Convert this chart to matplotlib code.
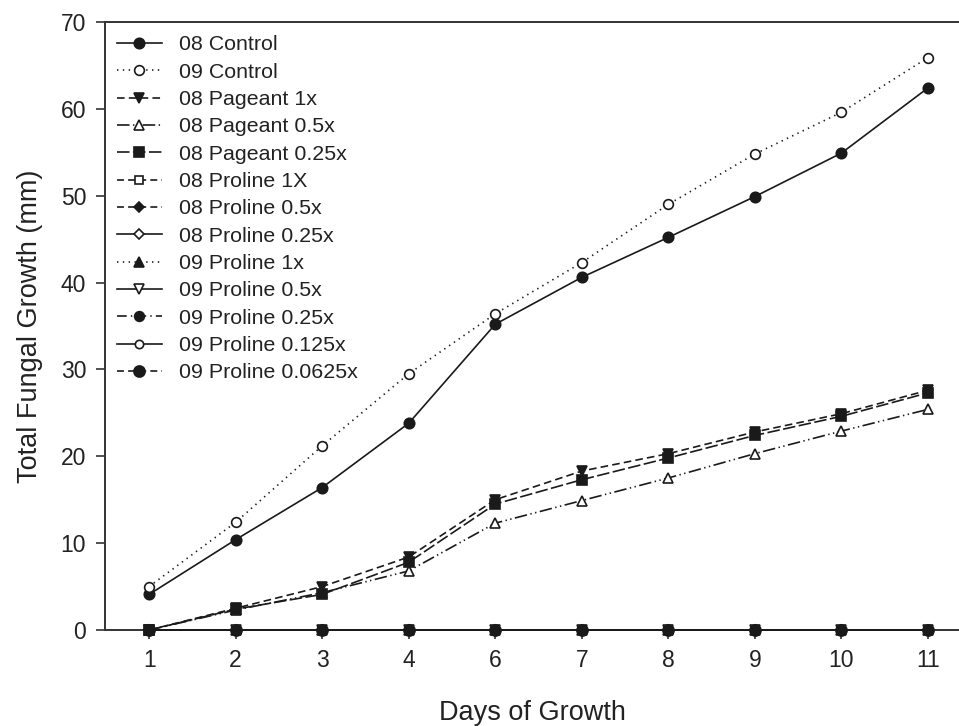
import matplotlib
matplotlib.use("Agg")
import matplotlib.pyplot as plt
import numpy as np

plt.rcParams['font.family'] = ['Liberation Sans', 'DejaVu Sans']
plt.rcParams['lines.scale_dashes'] = False

days = ['1', '2', '3', '4', '6', '7', '8', '9', '10', '11']

ctrl_08 = [4.1, 10.4, 16.4, 23.8, 35.2, 40.6, 45.2, 49.9, 54.9, 62.4]
ctrl_09 = [5.0, 12.4, 21.2, 29.5, 36.4, 42.3, 49.0, 54.8, 59.6, 65.9]
pageant_1x_08 = [0, 2.5, 5.0, 8.4, 15.0, 18.3, 20.3, 22.8, 24.9, 27.6]
pageant_05x_08 = [0, 2.3, 4.3, 6.8, 12.3, 14.9, 17.5, 20.3, 22.9, 25.4]
pageant_025x_08 = [0, 2.4, 4.1, 7.8, 14.5, 17.3, 19.8, 22.4, 24.6, 27.3]
proline_1x_08 = [0, 0, 0, 0, 0, 0, 0, 0, 0, 0]
proline_05x_08 = [0, 0, 0, 0, 0, 0, 0, 0, 0, 0]
proline_025x_08 = [0, 0, 0, 0, 0, 0, 0, 0, 0, 0]
proline_1x_09 = [0, 0, 0, 0, 0, 0, 0, 0, 0, 0]
proline_05x_09 = [0, 0, 0, 0, 0, 0, 0, 0, 0, 0]
proline_025x_09 = [0, 0, 0, 0, 0, 0, 0, 0, 0, 0]
proline_0125x_09 = [0, 0, 0, 0, 0, 0, 0, 0, 0, 0]
proline_00625x_09 = [0, 0, 0, 0, 0, 0, 0, 0, 0, 0]

labels = ['08 Control', '09 Control', '08 Pageant 1x', '08 Pageant 0.5x',
          '08 Pageant 0.25x', '08 Proline 1X', '08 Proline 0.5x',
          '08 Proline 0.25x', '09 Proline 1x', '09 Proline 0.5x',
          '09 Proline 0.25x', '09 Proline 0.125x', '09 Proline 0.0625x']
series = [ctrl_08, ctrl_09, pageant_1x_08, pageant_05x_08, pageant_025x_08,
          proline_1x_08, proline_05x_08, proline_025x_08, proline_1x_09,
          proline_05x_09, proline_025x_09, proline_0125x_09, proline_00625x_09]

K = '#1a1a1a'
W = 'white'
solid = '-'
dotted = (0, (1, 3.2))
dash_med = (0, (5.5, 3.0))
dash_long = (0, (9, 2.5))
dash_dotdot = (0, (9, 2.5, 1, 2.5, 1, 2.5))
dash_short = (0, (5, 3))
dash_dot = (0, (7, 3, 1, 3))

styles = [
    dict(ls=solid, marker='o', mfc=K, ms=7.5, z=4),
    dict(ls=dotted, marker='o', mfc=W, ms=7, z=4),
    dict(ls=dash_med, marker='v', mfc=K, ms=7.3, z=4),
    dict(ls=dash_dotdot, marker='^', mfc=W, ms=7, z=4),
    dict(ls=dash_long, marker='s', mfc=K, ms=6.5, z=4),
    dict(ls=dash_short, marker='s', mfc=W, ms=5.3, z=3),
    dict(ls=dash_short, marker='D', mfc=K, ms=5, z=3),
    dict(ls=solid, marker='D', mfc=W, ms=5, z=3),
    dict(ls=dotted, marker='^', mfc=K, ms=7, z=3),
    dict(ls=solid, marker='v', mfc=W, ms=7, z=3),
    dict(ls=dash_dot, marker='o', mfc=K, ms=7, z=3),
    dict(ls=solid, marker='o', mfc=W, ms=6, z=3),
    dict(ls=dash_short, marker='o', mfc=K, ms=8, z=5),
]

fig = plt.figure(figsize=(9.59, 7.26), dpi=100)
ax = fig.add_axes([105/959, 96/726, 854/959, 608/726])

for vals, lab, st in zip(series, labels, styles):
    ax.plot(days, vals, color=K, lw=1.2, linestyle=st['ls'], marker=st['marker'],
            markerfacecolor=st['mfc'], markeredgecolor=K, markeredgewidth=1.2,
            markersize=st['ms'], label=lab, clip_on=False, zorder=st['z'])

ax.set_xlim(-0.51, 9.36)
ax.set_ylim(0, 70)
ax.set_yticks(np.arange(0, 71, 10))

for side in ['left', 'top', 'bottom']:
    ax.spines[side].set_color('#333333')
    ax.spines[side].set_linewidth(1.4)
ax.spines['right'].set_visible(False)

ax.tick_params(axis='both', direction='out', length=6.5, width=1.2,
               color='#333333', labelcolor='#222222', labelsize=16.5, pad=7)

ax.set_xlabel('Days of Growth', fontsize=19.5, color='#222222', labelpad=20)
ax.set_ylabel('Total Fungal Growth (mm)', fontsize=19.5, color='#222222', labelpad=13)

leg = ax.legend(loc='upper left', bbox_to_anchor=(0.014, 0.978), frameon=False,
                fontsize=15.4, handlelength=2.1, handletextpad=0.8,
                labelspacing=0.39, borderpad=0, borderaxespad=0, numpoints=1)
for t in leg.get_texts():
    t.set_color('#222222')

fig.savefig('out.png', dpi=100)
